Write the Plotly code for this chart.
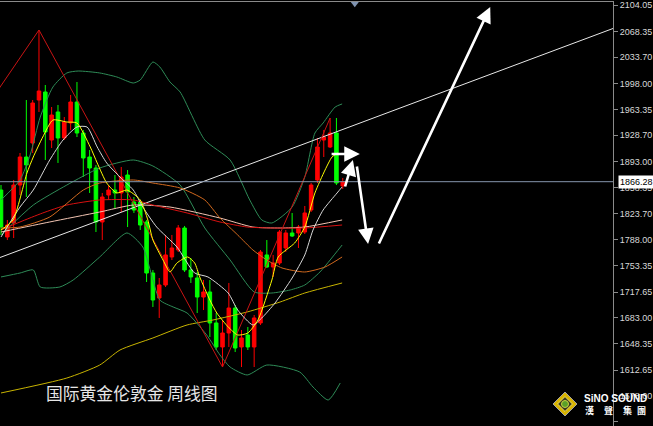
import plotly.graph_objects as go

# ---------------- data ----------------
idx = list(range(55))
opens = [1855.1, 1791.9, 1810.7, 1861.8, 1899.5, 1918.4, 1976.2, 1987.0, 1922.4, 1960.1,
         1925.1, 1945.3, 1973.5, 1931.8, 1899.5, 1884.7, 1812.1, 1848.4, 1855.1, 1851.1,
         1875.3, 1839.0, 1839.0, 1812.1, 1743.4, 1709.8, 1727.3, 1765.0, 1774.4, 1804.0,
         1747.5, 1736.7, 1711.1, 1717.9, 1676.2, 1643.9, 1662.7, 1696.3, 1643.9, 1660.0,
         1643.9, 1676.2, 1767.7, 1751.5, 1756.9, 1777.1, 1797.3, 1797.3, 1798.6, 1828.2,
         1868.6, 1922.4, 1913.0, 1931.8, 1860.5]
highs = [1861.8, 1814.8, 1868.6, 1904.9, 1976.2, 1976.2, 2070.4, 1996.4, 1966.8, 1969.5,
         1953.3, 1983.0, 2000.4, 1935.9, 1908.9, 1888.8, 1851.1, 1861.8, 1875.3, 1886.1,
         1882.0, 1845.7, 1841.7, 1814.8, 1747.5, 1736.7, 1794.6, 1794.6, 1808.0, 1806.7,
         1763.6, 1744.8, 1734.0, 1734.0, 1689.6, 1680.2, 1730.0, 1700.4, 1666.7, 1670.8,
         1686.9, 1774.4, 1787.8, 1767.7, 1801.3, 1801.3, 1824.2, 1808.0, 1833.6, 1864.5,
         1925.1, 1935.9, 1952.0, 1952.0, 1871.3]
lows = [1794.6, 1787.8, 1790.5, 1848.4, 1845.7, 1904.9, 1960.1, 1895.5, 1911.6, 1891.5,
        1922.4, 1935.9, 1926.4, 1872.6, 1851.1, 1798.6, 1787.8, 1841.7, 1830.9, 1825.5,
        1805.3, 1824.2, 1801.3, 1731.3, 1697.7, 1682.9, 1724.6, 1760.9, 1771.7, 1744.8,
        1730.0, 1689.6, 1693.6, 1657.3, 1639.8, 1616.9, 1643.9, 1637.1, 1616.9, 1639.8,
        1616.9, 1673.5, 1750.2, 1738.1, 1754.2, 1771.7, 1791.9, 1777.1, 1795.9, 1825.5,
        1864.5, 1899.5, 1911.6, 1861.8, 1856.5]
closes = [1805.3, 1808.0, 1861.8, 1899.5, 1888.8, 1972.2, 1988.3, 1933.2, 1956.0, 1925.1,
          1946.6, 1973.5, 1931.8, 1898.2, 1884.7, 1812.1, 1845.7, 1855.1, 1851.1, 1872.6,
          1852.4, 1828.2, 1808.0, 1743.4, 1707.1, 1727.3, 1767.7, 1777.1, 1804.0, 1747.5,
          1738.1, 1711.1, 1717.9, 1676.2, 1643.9, 1662.7, 1696.3, 1642.5, 1656.0, 1643.9,
          1682.9, 1771.7, 1751.5, 1756.9, 1798.6, 1797.3, 1793.2, 1805.3, 1824.2, 1861.8,
          1913.0, 1926.4, 1931.8, 1864.5, 1866.28]
last_price = 1866.28

# moving averages
ma_fast_x = [0, 1.9, 4.1, 5.1, 6.6, 8.2, 10.4, 12.0, 14.1, 15.2, 16.7, 18.3, 19.9, 22.0, 23.2,
             24.0, 25.6, 26.7, 27.8, 29.5, 30.6, 31.4, 33.0, 34.1, 35.9, 37.4, 39.0, 40.6,
             42.8, 43.8, 46.4, 48.0, 49.6, 51.2, 52.3, 53.2]
ma_fast_y = [1801.3, 1814.8, 1878.0, 1899.5, 1926.4, 1949.3, 1946.6, 1945.3, 1913.0, 1891.5,
             1864.5, 1851.1, 1855.1, 1841.7, 1814.8, 1787.8, 1760.9, 1744.8, 1756.9, 1765.0,
             1756.9, 1738.1, 1707.1, 1689.6, 1670.8, 1660.0, 1662.7, 1680.2, 1734.0, 1765.0,
             1783.8, 1805.3, 1851.1, 1882.0, 1899.5, 1904.9]
ma_white_x = [0, 3.0, 5.1, 7.7, 9.8, 12.0, 13.6, 15.2, 16.7, 18.8, 20.9, 22.4, 24.6, 27.8,
              30.6, 32.7, 35.9, 37.4, 39.8, 41.2, 43.3, 46.0, 48.0, 49.3, 50.9, 53.1, 53.9]
ma_white_y = [1791.9, 1832.2, 1855.1, 1895.5, 1922.4, 1939.9, 1939.9, 1913.0, 1891.5, 1872.6,
              1855.1, 1832.2, 1805.3, 1778.4, 1743.4, 1738.1, 1716.5, 1693.6, 1673.5, 1682.9,
              1703.1, 1736.7, 1767.7, 1801.3, 1828.2, 1851.1, 1859.2]
ma_orange_x = [0, 3.0, 7.7, 13.0, 15.6, 20.9, 24.0, 28.3, 32.2, 34.6, 37.4, 39.8, 42.0, 44.4,
               48.0, 51.2, 53.9]
ma_orange_y = [1804.0, 1805.3, 1818.8, 1855.1, 1864.5, 1868.6, 1864.5, 1857.8, 1841.7, 1817.4,
               1794.6, 1774.4, 1760.9, 1750.2, 1744.8, 1751.5, 1765.0]
ma_red_x = [0, 3.0, 6.6, 10.4, 15.6, 20.9, 24.0, 29.4, 34.6, 38.9, 42.8, 48.0, 53.9]
ma_red_y = [1801.3, 1812.1, 1824.2, 1834.9, 1841.7, 1841.7, 1834.9, 1824.2, 1812.1, 1805.3,
            1804.0, 1804.0, 1808.0]
ma_pink_x = [0, 7.7, 15.6, 20.9, 26.7, 34.6, 39.8, 44.1, 48.0, 53.9]
ma_pink_y = [1798.6, 1812.1, 1825.5, 1834.9, 1832.2, 1817.4, 1805.3, 1804.0, 1805.3, 1814.8]
ma_long_x = [0, 10.4, 15.6, 18.8, 24.0, 29.4, 33.5, 38.9, 44.1, 48.0, 53.9]
ma_long_y = [1582.0, 1602.1, 1619.6, 1639.8, 1656.0, 1673.5, 1680.2, 1691.0, 1704.4, 1716.5, 1730.0]

# Bollinger bands
bb_up_x = [0, 3.0, 4.6, 6.2, 8.2, 10.4, 12.2, 15.6, 18.3, 20.9, 22.0, 24.0, 25.1, 26.7, 28.3,
           32.2, 36.2, 39.3, 41.2, 42.8, 46.0, 48.0, 49.6, 50.9, 52.8, 53.9]
bb_up_y = [1841.7, 1868.6, 1902.2, 1953.3, 1993.7, 2012.6, 2015.2, 2012.6, 2007.2, 1999.1,
           2003.1, 2027.4, 2020.6, 2000.4, 1987.0, 1922.4, 1895.5, 1841.7, 1814.8, 1810.7,
           1832.2, 1872.6, 1931.8, 1945.3, 1966.8, 1970.9]
bb_mid_x = [0, 5.1, 10.4, 15.6, 20.9, 24.0, 28.3, 32.2, 36.2, 40.0, 42.8, 45.7, 48.0, 50.4,
            52.0, 53.9]
bb_mid_y = [1794.6, 1834.9, 1861.8, 1884.7, 1895.5, 1887.4, 1861.8, 1804.0, 1760.9, 1717.9,
            1716.5, 1720.6, 1727.3, 1744.8, 1760.9, 1781.1]
bb_low_x = [0, 3.0, 5.1, 6.2, 9.3, 11.4, 15.6, 19.9, 22.4, 25.1, 27.2, 29.4, 32.5, 34.6, 36.2,
            38.9, 42.0, 47.2, 49.3, 51.7, 53.6]
bb_low_y = [1738.1, 1743.4, 1747.5, 1724.6, 1724.6, 1734.0, 1765.0, 1797.3, 1778.4, 1707.1,
            1697.7, 1689.6, 1660.0, 1633.1, 1616.9, 1606.2, 1619.6, 1610.2, 1590.0, 1572.5,
            1595.4]

# zigzag and trend line
zz_x = [-1, 6, 35, 52]
zz_y = [1983.0, 2070.4, 1616.9, 1952.0]
trend_x = [-1, 97]
trend_y = [1761.6, 2073.4]

# forecast arrows (tail -> head)
arrow_tail_x = [52.0, 54.3, 56.2, 59.6]
arrow_tail_y = [1903.6, 1857.8, 1888.8, 1781.1]
arrow_head_x = [56.7, 55.6, 58.0, 77.3]
arrow_head_y = [1903.6, 1895.5, 1782.5, 2101.4]

tick_vals = [2104.05, 2068.35, 2033.70, 1998.00, 1963.35, 1928.70, 1893.00, 1858.35, 1823.70,
             1788.00, 1753.35, 1717.65, 1683.00, 1648.35, 1612.65, 1578.00, 1543.35]
tick_text = ["%.2f" % v for v in tick_vals]

title_text = "国际黄金伦敦金 周线图"
logo_text = "SiNO SOUND"
logo_chars = ["漢", "聲", "集", "團"]

y_range = [1537.55, 2108.09]
x_range = [-0.16, 96.7]

# ---------------- figure ----------------
fig = go.Figure()

def line(x, y, color, width=1, smooth=True):
    fig.add_trace(go.Scatter(x=x, y=y, mode="lines",
                             line=dict(color=color, width=width,
                                       shape="spline" if smooth else "linear",
                                       smoothing=0.6),
                             hoverinfo="skip", showlegend=False))

bb_col = "#2e8b57"
line(ma_long_x, ma_long_y, "#c8b400")
line(bb_up_x, bb_up_y, bb_col)
line(bb_mid_x, bb_mid_y, bb_col)
line(bb_low_x, bb_low_y, bb_col)
line(trend_x, trend_y, "#e8e8e8", smooth=False)
line(ma_pink_x, ma_pink_y, "#f2c4b2")
line(ma_red_x, ma_red_y, "#d81010")
line(ma_orange_x, ma_orange_y, "#d2691e")

fig.add_trace(go.Candlestick(
    x=idx, open=opens, high=highs, low=lows, close=closes,
    increasing=dict(line=dict(color="#ff0000", width=1), fillcolor="#ff0000"),
    decreasing=dict(line=dict(color="#00ff00", width=1), fillcolor="#00ff00"),
    whiskerwidth=0, hoverinfo="skip", showlegend=False))

line(zz_x, zz_y, "#c81414", smooth=False)
line(ma_white_x, ma_white_y, "#d8d8d8")
line(ma_fast_x, ma_fast_y, "#ffff00")

# chart-shift marker at the top
fig.add_trace(go.Scatter(x=[55.9], y=[2105.6], mode="markers",
                         marker=dict(symbol="triangle-down", size=7, color="#7f93b0"),
                         hoverinfo="skip", showlegend=False, cliponaxis=False))

shapes = [dict(type="line", xref="paper", x0=0, x1=1, yref="y", y0=last_price, y1=last_price,
               line=dict(color="#8595ad", width=1))]

# logo diamond
cx, cy = 565 / 613, (426 - 404) / 424
dx, dy = 12 / 613, 12 / 424
def diamond(sx, sy):
    return (f"M {cx} {cy + sy} L {cx + sx} {cy} L {cx} {cy - sy} L {cx - sx} {cy} Z")
shapes.append(dict(type="path", xref="paper", yref="paper", path=diamond(dx, dy),
                   fillcolor="#d8b400", line=dict(color="#a0a0a0", width=1), layer="above"))
shapes.append(dict(type="path", xref="paper", yref="paper", path=diamond(dx * 0.62, dy * 0.62),
                   fillcolor="#3a3a20", line=dict(color="#f0e060", width=1), layer="above"))
shapes.append(dict(type="circle", xref="paper", yref="paper",
                   x0=cx - 3.5 / 613, x1=cx + 3.5 / 613, y0=cy - 3.5 / 424, y1=cy + 3.5 / 424,
                   fillcolor="#5aa02a", line=dict(color="#c8d040", width=1), layer="above"))

annotations = []
for tx, ty, hx, hy in zip(arrow_tail_x, arrow_tail_y, arrow_head_x, arrow_head_y):
    annotations.append(dict(x=hx, y=hy, ax=tx, ay=ty, xref="x", yref="y", axref="x", ayref="y",
                            text="", showarrow=True, arrowhead=2, arrowsize=1.2,
                            arrowwidth=2.6, arrowcolor="#ffffff"))

annotations.append(dict(xref="paper", yref="y", x=1, y=last_price, xanchor="left", xshift=5,
                        text="%.2f" % last_price, showarrow=False, bgcolor="#ffffff",
                        font=dict(family="Liberation Sans", size=9, color="#000000"),
                        borderpad=1))
annotations.append(dict(xref="paper", yref="paper", x=44 / 613, y=(426 - 393) / 424,
                        xanchor="left", yanchor="middle", text=title_text,
                        showarrow=False,
                        font=dict(family="Noto Sans CJK SC", size=16.8, color="#e6e6e6")))
annotations.append(dict(xref="paper", yref="paper", x=582 / 613, y=(426 - 398) / 424,
                        xanchor="left", yanchor="middle", text="<b>%s</b>" % logo_text,
                        showarrow=False,
                        font=dict(family="Liberation Sans", size=10, color="#ffffff")))
for ch, px in zip(logo_chars, [589, 608, 627, 641]):
    annotations.append(dict(xref="paper", yref="paper", x=px / 613, y=(426 - 410) / 424,
                            xanchor="center", yanchor="middle", text="<b>%s</b>" % ch,
                            showarrow=False,
                            font=dict(family="Noto Sans CJK TC", size=9, color="#ffffff")))

fig.update_layout(
    width=653, height=426,
    margin=dict(l=0, r=40, t=2, b=0),
    paper_bgcolor="#000000", plot_bgcolor="#000000",
    boxgap=0.2,
    showlegend=False,
    shapes=shapes,
    annotations=annotations,
    xaxis=dict(range=x_range, side="top", showline=True, linecolor="#8a8a8a", linewidth=1,
               showgrid=False, zeroline=False, showticklabels=False, ticks="",
               rangeslider=dict(visible=False), fixedrange=True),
    yaxis=dict(range=y_range, side="right", showline=True, linecolor="#8a8a8a", linewidth=1,
               showgrid=False, zeroline=False, tickmode="array", tickvals=tick_vals,
               ticktext=tick_text, ticks="outside", ticklen=4, tickcolor="#8a8a8a",
               tickfont=dict(family="Liberation Sans", size=9, color="#d8d8d8"),
               fixedrange=True),
)

fig.write_html("out.html", config={"displayModeBar": False},
               post_script="document.body.style.margin='0';document.body.style.background='#000';")
